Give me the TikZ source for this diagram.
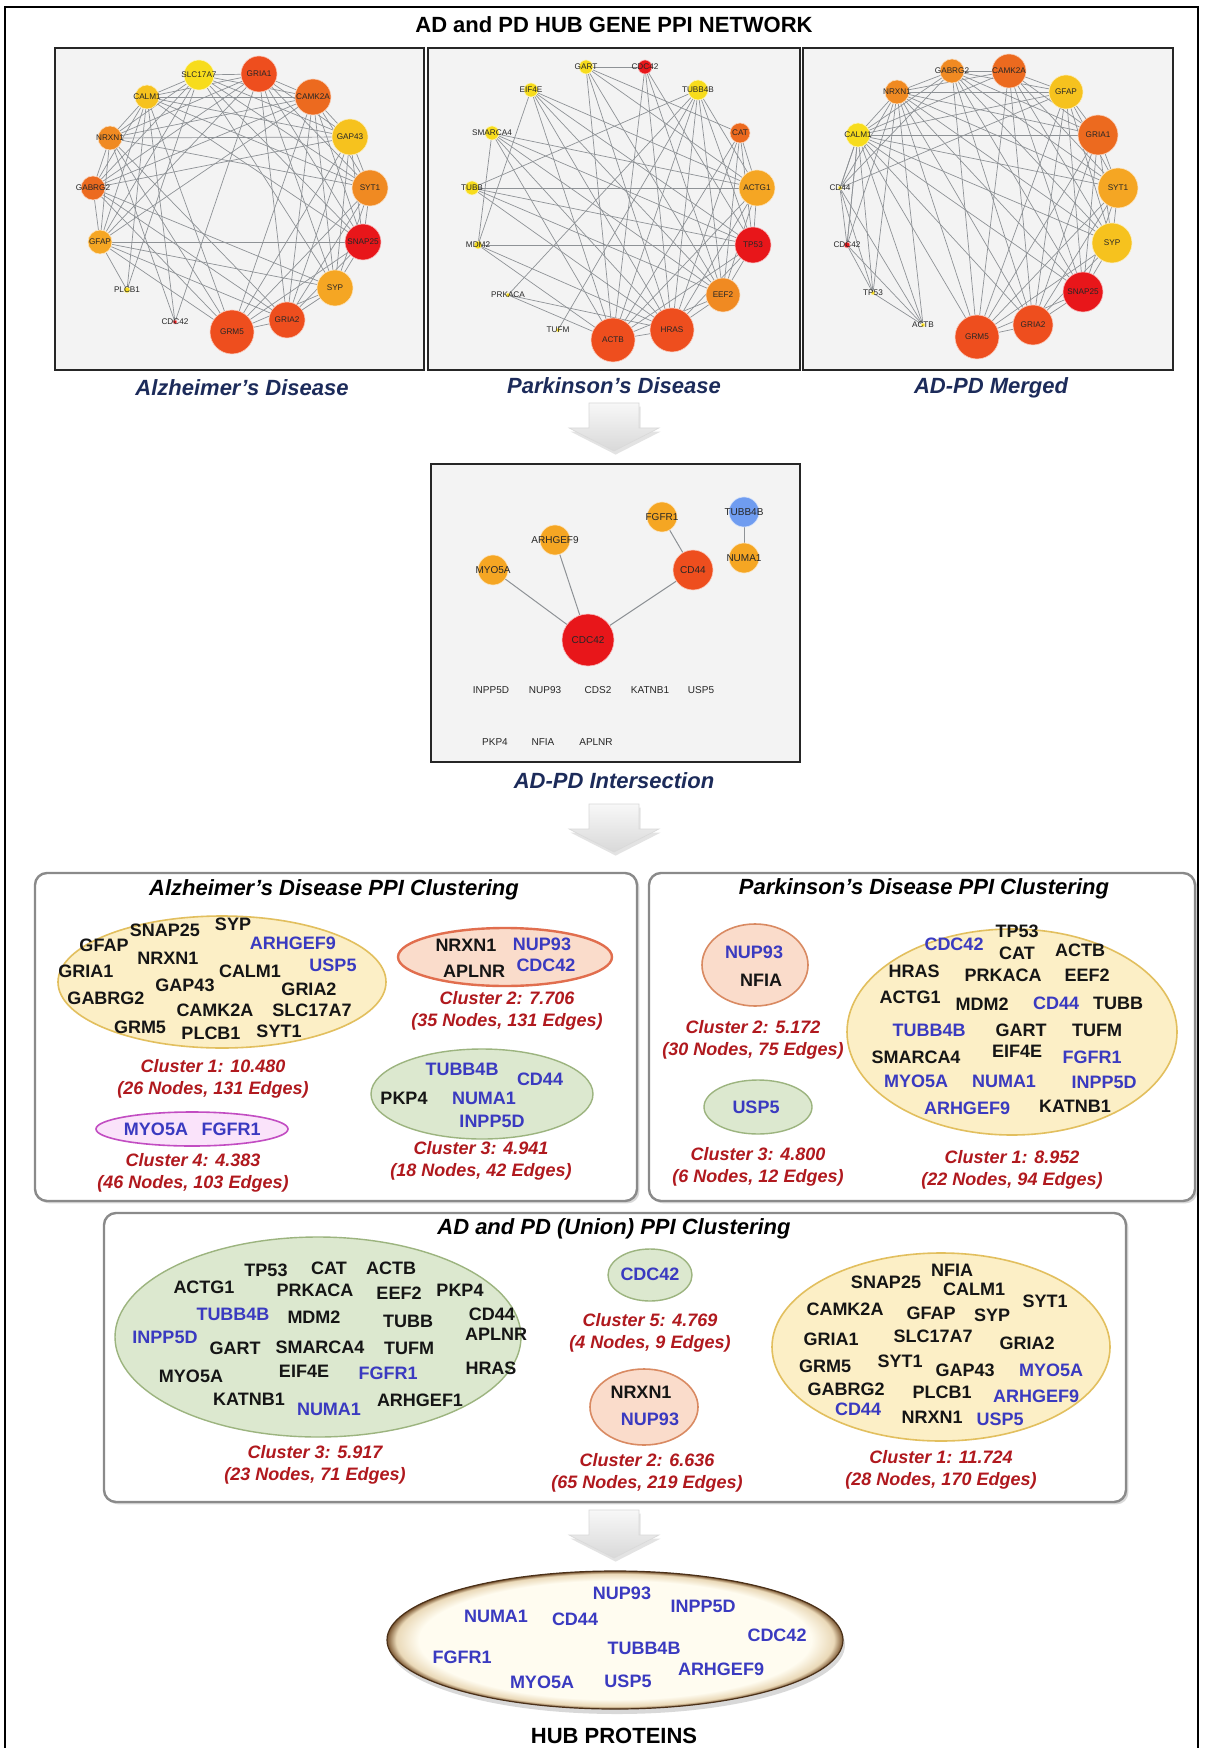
\documentclass[tikz,border=0pt]{standalone}
\usepackage{fontspec}
\setmainfont{Liberation Sans}
\usepackage{xcolor}
\usetikzlibrary{shapes.geometric,shadows,positioning}
\definecolor{panelgray}{HTML}{F3F3F3}
\definecolor{linkgray}{HTML}{8E9296}
\definecolor{navy}{HTML}{1C2B5A}
\definecolor{genek}{HTML}{151515}
\definecolor{geneb}{HTML}{3A3AC0}
\definecolor{scorered}{HTML}{B0191E}
\definecolor{boxgray}{HTML}{8A8A8A}
\definecolor{clusy}{HTML}{FCEFC6}
\definecolor{clusyl}{HTML}{E2BF5E}
\definecolor{cluss}{HTML}{FADCCB}
\definecolor{clussl}{HTML}{D98A62}
\definecolor{clusg}{HTML}{DCE8CF}
\definecolor{clusgl}{HTML}{9CB47F}
\definecolor{clusp}{HTML}{FAE3FA}
\definecolor{cluspl}{HTML}{C24DC2}
\definecolor{nyel}{HTML}{F7DC1C}
\definecolor{ngold}{HTML}{F6C21E}
\definecolor{namb}{HTML}{F5A623}
\definecolor{norg}{HTML}{F08A22}
\definecolor{ndor}{HTML}{EC6A1F}
\definecolor{nver}{HTML}{EE4E1E}
\definecolor{nred}{HTML}{E8161A}
\definecolor{nblue}{HTML}{6F9CF0}
\definecolor{hubin}{HTML}{FFFCF0}
\definecolor{hubmid}{HTML}{EAD9B8}
\definecolor{hubout}{HTML}{7A5530}
\definecolor{hubline}{HTML}{4A3018}
\pgfdeclareradialshading{hubrim}{\pgfpoint{0bp}{0bp}}{color(0bp)=(hubin); color(21.5bp)=(hubin); color(24bp)=(hubmid); color(25bp)=(hubout); color(50bp)=(hubout)}
\pgfdeclarelayer{panels}
\pgfdeclarelayer{links}
\pgfsetlayers{panels,links,main}
\tikzset{
  panel/.style={fill=panelgray,draw=black!85,line width=1pt},
  link/.style={draw=linkgray,line width=0.35pt},
  netnode/.style={circle,inner sep=0pt,draw=white!70!#1,line width=0.3pt,fill=#1},
  netlbl/.style={font=\fontsize{4.1}{5}\selectfont,text=black!85,inner sep=0pt},
  isolbl/.style={font=\fontsize{5}{6}\selectfont,text=black!85,inner sep=0pt},
  caption/.style={font=\fontsize{11}{13}\selectfont\bfseries\itshape,text=navy},
  arrowbody/.style={draw=gray!30,line width=0.3pt,top color=gray!6,bottom color=gray!30,
    drop shadow={opacity=0.22,shadow xshift=0.8pt,shadow yshift=-1.8pt}},
  downarrow/.pic={
    \path[arrowbody] (-25,0) -- (25,0) -- (25,25) -- (45,25) -- (0,48) -- (-45,25) -- (-25,25) -- cycle;
  },
  cbox/.style={draw=boxgray,line width=1.2pt,rounded corners=6pt,fill=white,
    drop shadow={opacity=0.3,shadow xshift=1.2pt,shadow yshift=-1.2pt}},
  boxtitle/.style={font=\fontsize{11}{13}\selectfont\bfseries\itshape,text=black},
  gene/.style={font=\fontsize{9}{11}\selectfont\bfseries,inner sep=0pt},
  score/.style={font=\fontsize{9}{11}\selectfont\bfseries\itshape,text=scorered,align=center,inner sep=0pt},
  yclus/.style={ellipse,inner sep=0pt,fill=clusy,draw=clusyl,line width=0.8pt},
  sclus/.style={ellipse,inner sep=0pt,fill=cluss,draw=clussl,line width=0.8pt},
  gclus/.style={ellipse,inner sep=0pt,fill=clusg,draw=clusgl,line width=0.7pt},
  pclus/.style={ellipse,inner sep=0pt,fill=clusp,draw=cluspl,line width=0.8pt},
  hubring/.style={ellipse,inner sep=0pt,shading=hubrim,draw=hubline,line width=0.6pt,
    drop shadow={opacity=0.3,shadow xshift=1pt,shadow yshift=-2.5pt}},
  hubgene/.style={font=\fontsize{9}{11}\selectfont\bfseries,text=geneb,inner sep=0pt}
}
\begin{document}
\begin{tikzpicture}[x=0.5pt,y=-0.5pt]
\useasboundingbox (0,0) rectangle (1204,1748);
\begin{pgfonlayer}{panels}
  \fill[white] (0,0) rectangle (1204,1748);
  \draw[line width=0.8pt] (5,1748) -- (5,7) -- (1198,7) -- (1198,1748);
  \draw[panel] (55,48) rectangle (424,370);
  \draw[panel] (428,48) rectangle (800,370);
  \draw[panel] (803,48) rectangle (1173,370);
  \draw[panel] (431,464) rectangle (800,762);
\end{pgfonlayer}

\node[font=\fontsize{11}{13}\selectfont\bfseries] (title) at (614,25) {AD and PD HUB GENE PPI NETWORK};

% Alzheimer network
\foreach \nm/\px/\py/\r/\cl [count=\i] in {SLC17A7/199/75/15/nyel,GRIA1/259/74/18/nver,CAMK2A/313/97/18/ndor,
    GAP43/350/137/18/ngold,SYT1/370/188/18/norg,SNAP25/363/242/18/nred,SYP/335/288/18/namb,GRIA2/287/320/18/nver,
    GRM5/232/332/22/nver,CDC42/175/322/2/nred,PLCB1/127/290/3/nyel,GFAP/100/242/12/namb,GABRG2/93/188/12/ndor,
    NRXN1/110/138/12/norg,CALM1/147/97/12/ngold}
  \node[netnode=\cl,minimum size=\r*1pt,label={[netlbl]center:\nm}] (ad\i) at (\px,\py) {};

% Parkinson network
\foreach \nm/\px/\py/\r/\cl [count=\i] in {GART/586/67/7/nyel,CDC42/645/67/7/nred,TUBB4B/698/90/10/nyel,
    CAT/740/133/10/ndor,ACTG1/757/188/18/namb,TP53/753/245/18/nred,EEF2/723/295/17/norg,HRAS/672/330/22/nver,
    ACTB/613/340/22/nver,TUFM/558/330/2/nyel,PRKACA/508/295/2/nyel,MDM2/478/245/4/nyel,TUBB/472/188/7/nyel,
    SMARCA4/492/133/7/nyel,EIF4E/531/90/7/nyel}
  \node[netnode=\cl,minimum size=\r*1pt,label={[netlbl]center:\nm}] (pd\i) at (\px,\py) {};

% merged network
\foreach \nm/\px/\py/\r/\cl [count=\i] in {GABRG2/952/71/12/norg,CAMK2A/1009/71/17/ndor,GFAP/1066/92/17/ngold,
    GRIA1/1098/135/20/ndor,SYT1/1118/188/20/namb,SYP/1112/243/20/ngold,SNAP25/1083/292/20/nred,GRIA2/1033/325/20/nver,
    GRM5/977/337/22/nver,ACTB/923/325/2/nyel,TP53/873/293/2/nyel,CDC42/847/245/3/nred,CD44/840/188/2/nyel,
    CALM1/858/135/12/nyel,NRXN1/897/92/12/norg}
  \node[netnode=\cl,minimum size=\r*1pt,label={[netlbl]center:\nm}] (mg\i) at (\px,\py) {};

% intersection network
\foreach \nm/\px/\py/\r/\cl in {TUBB4B/744/512/15/nblue,NUMA1/744/558/15/namb,FGFR1/662/517/15/namb,
    ARHGEF9/555/540/15/namb,MYO5A/493/570/15/namb,CD44/693/570/20/nver,CDC42/588/640/26/nred}
  \node[netnode=\cl,minimum size=\r*1pt,label={[isolbl]center:\nm}] (ix\nm) at (\px,\py) {};
\foreach \nm/\px/\py [count=\i] in {INPP5D/491/690,NUP93/545/690,CDS2/598/690,KATNB1/650/690,USP5/701/690,
    PKP4/495/742,NFIA/543/742,APLNR/596/742}
  \node[isolbl] (iso\i) at (\px,\py) {\nm};

\begin{pgfonlayer}{links}
  \foreach \i in {1,...,14}{
    \pgfmathtruncatemacro\k{\i+1}
    \foreach \j in {\k,...,15}{
      \pgfmathtruncatemacro\dist{\j-\i}
      \pgfmathtruncatemacro\noedge{(\i==10)||(\i==11)||(\j==10)||(\j==11)||(\dist==7)||(\dist==8)}
      \ifnum\noedge=0 \draw[link] (ad\i) -- (ad\j);\fi
      \pgfmathtruncatemacro\noedge{(\i>9)&&(\i<14)||(\j>9)&&(\j<14)}
      \ifnum\noedge=0 \draw[link] (mg\i) -- (mg\j);\fi
    }
  }
  \foreach \a/\b in {10/15,10/14,11/15,11/1,11/12,10/2}
    \draw[link] (ad\a) -- (ad\b);
  \foreach \a/\b in {13/12,13/11,12/11,12/10,11/10,13/10,14/13,13/3,14/12,13/1}
    \draw[link] (mg\a) -- (mg\b);
  \foreach \a/\b in {1/2,13/5,12/6,1/9,1/8,1/4,1/5,2/9,2/8,2/7,2/6,15/12,15/6,15/5,15/8,15/7,3/13,3/11,
      3/9,3/8,3/10,3/5,3/6,3/7,14/12,14/6,14/5,14/8,14/9,4/9,4/8,4/7,4/6,4/5,13/6,13/7,13/8,12/8,12/9,
      11/8,11/9,9/8,9/7,9/6,9/5,8/7,8/6,8/5,7/6,7/5,6/5,15/9,1/7,14/7}
    \draw[link] (pd\a) -- (pd\b);
  \draw[link,line width=0.5pt] (ixTUBB4B) -- (ixNUMA1);
  \draw[link,line width=0.5pt] (ixFGFR1) -- (ixCD44);
  \draw[link,line width=0.5pt] (ixCD44) -- (ixCDC42);
  \draw[link,line width=0.5pt] (ixARHGEF9) -- (ixCDC42);
  \draw[link,line width=0.5pt] (ixMYO5A) -- (ixCDC42);
\end{pgfonlayer}

\node[caption] (capad) at (242,388) {Alzheimer’s Disease};
\node[caption] (cappd) at (614,386) {Parkinson’s Disease};
\node[caption] (capmg) at (991,388) {AD-PD Merged};
\node[caption] (capix) at (614,781) {AD-PD Intersection};

\pic at (614,403) {downarrow};
\pic at (614,804) {downarrow};
\pic at (614,1510) {downarrow};

% clustering boxes
\draw[cbox] (35,873) rectangle (637,1201);
\draw[cbox] (649,873) rectangle (1195,1201);
\draw[cbox] (104,1213) rectangle (1126,1502);
\node[boxtitle] (adtitle) at (334,890) {Alzheimer’s Disease PPI Clustering};
\node[boxtitle] (pdtitle) at (924,889) {Parkinson’s Disease PPI Clustering};
\node[boxtitle] (untitle) at (614,1229) {AD and PD (Union) PPI Clustering};

\node[yclus,minimum width=164pt,minimum height=66pt] (adc1) at (222,982) {};
\node[sclus,draw=clussl!80!red,line width=1.2pt,minimum width=107pt,minimum height=29pt] (adc2) at (505,957) {};
\node[gclus,minimum width=111pt,minimum height=45pt] (adc3) at (482,1094) {};
\node[pclus,minimum width=96pt,minimum height=17pt] (adc4) at (192,1129) {};
\node[sclus,minimum width=53pt,minimum height=41pt] (pdc2) at (755,965) {};
\node[gclus,minimum width=54pt,minimum height=27pt] (pdc3) at (758,1107) {};
\node[yclus,minimum width=165pt,minimum height=103pt] (pdc1) at (1012,1032) {};
\node[gclus,minimum width=203pt,minimum height=100pt] (unc3) at (318,1337) {};
\node[gclus,minimum width=42pt,minimum height=26pt] (unc5) at (650,1275) {};
\node[sclus,minimum width=54pt,minimum height=38pt] (unc2) at (644,1407) {};
\node[yclus,minimum width=169pt,minimum height=94pt] (unc1) at (941,1347) {};

\foreach \g/\gx/\gy/\gc [count=\n] in {GFAP/104/945/k,SNAP25/165/930/k,SYP/233/924/k,ARHGEF9/293/943/b,
    NRXN1/168/958/k,GRIA1/86/971/k,CALM1/250/971/k,USP5/333/965/b,GAP43/185/985/k,GRIA2/309/989/k,
    GABRG2/106/998/k,CAMK2A/215/1010/k,SLC17A7/312/1010/k,GRM5/140/1027/k,PLCB1/211/1033/k,SYT1/279/1031/k}
  \node[gene,text=gene\gc] (ada\n) at (\gx,\gy) {\g};
\foreach \g/\gx/\gy/\gc [count=\n] in {NRXN1/466/945/k,NUP93/542/944/b,APLNR/474/971/k,CDC42/546/965/b}
  \node[gene,text=gene\gc] (adb\n) at (\gx,\gy) {\g};
\foreach \g/\gx/\gy/\gc [count=\n] in {TUBB4B/462/1069/b,CD44/540/1079/b,PKP4/404/1098/k,NUMA1/484/1098/b,
    INPP5D/492/1121/b}
  \node[gene,text=gene\gc] (adcc\n) at (\gx,\gy) {\g};
\foreach \g/\gx/\gy/\gc [count=\n] in {MYO5A/156/1129/b,FGFR1/231/1129/b}
  \node[gene,text=gene\gc] (add\n) at (\gx,\gy) {\g};

\foreach \g/\gx/\gy/\gc [count=\n] in {NUP93/754/952/b,NFIA/761/980/k}
  \node[gene,text=gene\gc] (pdb\n) at (\gx,\gy) {\g};
\node[gene,text=geneb] (pdcc1) at (756,1107) {USP5};
\foreach \g/\gx/\gy/\gc [count=\n] in {TP53/1017/931/k,CDC42/954/944/b,CAT/1017/953/k,ACTB/1080/950/k,
    HRAS/914/971/k,PRKACA/1003/975/k,EEF2/1087/975/k,ACTG1/910/997/k,MDM2/982/1004/k,CD44/1056/1003/b,
    TUBB/1118/1003/k,TUBB4B/929/1030/b,GART/1021/1030/k,TUFM/1097/1030/k,SMARCA4/916/1057/k,EIF4E/1017/1051/k,
    FGFR1/1092/1057/b,MYO5A/916/1081/b,NUMA1/1004/1081/b,INPP5D/1104/1082/b,ARHGEF9/967/1108/b,KATNB1/1075/1106/k}
  \node[gene,text=gene\gc] (pda\n) at (\gx,\gy) {\g};

\foreach \g/\gx/\gy/\gc [count=\n] in {TP53/266/1270/k,CAT/329/1268/k,ACTB/391/1268/k,ACTG1/204/1287/k,
    PRKACA/315/1290/k,EEF2/399/1293/k,PKP4/460/1290/k,TUBB4B/233/1314/b,MDM2/314/1317/k,TUBB/408/1321/k,
    CD44/492/1314/k,INPP5D/165/1337/b,APLNR/496/1334/k,GART/235/1348/k,SMARCA4/320/1347/k,TUFM/409/1348/k,
    HRAS/491/1368/k,MYO5A/191/1376/k,EIF4E/304/1371/k,FGFR1/388/1373/b,KATNB1/249/1399/k,NUMA1/329/1409/b,
    ARHGEF1/420/1400/k}
  \node[gene,text=gene\gc] (unca\n) at (\gx,\gy) {\g};
\node[gene,text=geneb] (unce1) at (650,1274) {CDC42};
\node[gene,text=genek] (uncb1) at (641,1392) {NRXN1};
\node[gene,text=geneb] (uncb2) at (650,1419) {NUP93};
\foreach \g/\gx/\gy/\gc [count=\n] in {NFIA/952/1270/k,SNAP25/886/1282/k,CALM1/974/1289/k,SYT1/1045/1301/k,
    CAMK2A/845/1309/k,GFAP/931/1313/k,SYP/992/1315/k,GRIA1/831/1339/k,SLC17A7/933/1336/k,GRIA2/1027/1343/k,
    GRM5/825/1366/k,SYT1/900/1361/k,GAP43/965/1370/k,MYO5A/1051/1370/b,GABRG2/846/1389/k,PLCB1/942/1392/k,
    ARHGEF9/1036/1396/b,CD44/858/1409/b,NRXN1/932/1417/k,USP5/1000/1419/b}
  \node[gene,text=gene\gc] (uncd\n) at (\gx,\gy) {\g};

\node[score] (adsc1) at (213,1079) {Cluster 1: 10.480\\(26 Nodes, 131 Edges)};
\node[score] (adsc2) at (507,1011) {Cluster 2: 7.706\\(35 Nodes, 131 Edges)};
\node[score] (adsc3) at (481,1161) {Cluster 3: 4.941\\(18 Nodes, 42 Edges)};
\node[score] (adsc4) at (193,1173) {Cluster 4: 4.383\\(46 Nodes, 103 Edges)};
\node[score] (pdsc2) at (753,1040) {Cluster 2: 5.172\\(30 Nodes, 75 Edges)};
\node[score] (pdsc3) at (758,1167) {Cluster 3: 4.800\\(6 Nodes, 12 Edges)};
\node[score] (pdsc1) at (1012,1170) {Cluster 1: 8.952\\(22 Nodes, 94 Edges)};
\node[score] (unsc3) at (315,1465) {Cluster 3: 5.917\\(23 Nodes, 71 Edges)};
\node[score] (unsc5) at (650,1333) {Cluster 5: 4.769\\(4 Nodes, 9 Edges)};
\node[score] (unsc2) at (647,1473) {Cluster 2: 6.636\\(65 Nodes, 219 Edges)};
\node[score] (unsc1) at (941,1470) {Cluster 1: 11.724\\(28 Nodes, 170 Edges)};

% hub proteins
\node[hubring,minimum width=228pt,minimum height=69pt] (hub) at (615,1640) {};
\foreach \g/\gx/\gy [count=\n] in {NUP93/622/1593,INPP5D/703/1606,NUMA1/496/1616,CD44/575/1619,CDC42/777/1635,
    TUBB4B/644/1648,FGFR1/462/1657,ARHGEF9/721/1669,MYO5A/542/1682,USP5/628/1681}
  \node[hubgene] (hubg\n) at (\gx,\gy) {\g};
\node[font=\fontsize{11}{13}\selectfont\bfseries] (hublbl) at (614,1736) {HUB PROTEINS};
\end{tikzpicture}
\end{document}
